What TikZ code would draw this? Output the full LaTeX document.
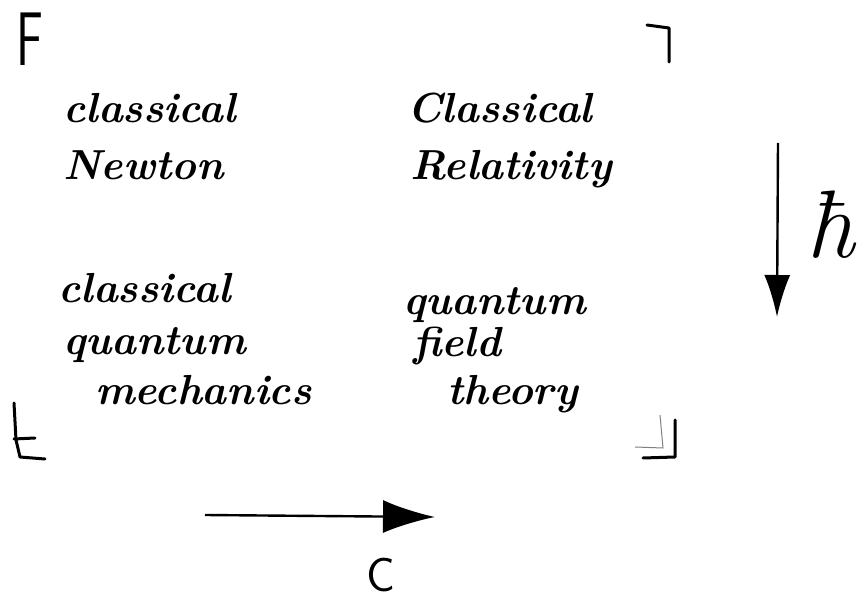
\documentclass[tikz,border=0pt]{standalone}
\usepackage{fontspec}
\usetikzlibrary{arrows.meta}
\begin{document}
\begin{tikzpicture}[x=1pt,y=-1pt,
  hand/.style={anchor=base west,inner sep=0pt,font=\fontsize{42}{50}\selectfont\bfseries\itshape},
  cornermark/.style={line width=3pt,line cap=round,line join=round},
  bigarrow/.style={line width=2.4pt}]
\useasboundingbox (0,0) rectangle (868,601);
% corner letters and marks
\node[anchor=base west,inner sep=0pt,xscale=0.66,font=\sffamily\fontsize{76}{76}\selectfont] (F) at (16,66) {F};
\draw[cornermark] (647,25) -- (669,28) -- (669,62);
\draw[cornermark] (14,403) -- (16,440) -- (20,457) -- (45,459);
\draw[cornermark] (14,439) -- (35,438);
\draw[cornermark] (643,458) -- (675,457) -- (675,420);
\draw[gray,line width=1pt] (660,415) -- (663,448) -- (635,447);
% texts
\node[hand] (tl1) at (63,123) {classical};
\node[hand] (tl2) at (63,180) {Newton};
\node[hand] (tr1) at (407,123) {Classical};
\node[hand] (tr2) at (410,180) {Relativity};
\node[hand] (bl1) at (58,303) {classical};
\node[hand] (bl2) at (63,355) {quantum};
\node[hand] (bl3) at (95,405) {mechanics};
\node[hand] (br1) at (403,315) {quantum};
\node[hand] (br2) at (413,357) {field};
\node[hand] (br3) at (447,405) {theory};
% arrows
\coordinate (hs) at (778,143);
\coordinate (he) at (777,317);
\draw[bigarrow,-{Latex[length=42pt,width=26pt]}] (hs) -- (he);
\node[anchor=base west,inner sep=0pt,font=\fontsize{96}{96}\selectfont\itshape] (hbar) at (806,258) {ħ};
\coordinate (cs) at (205,515);
\coordinate (ce) at (435,517);
\draw[bigarrow,-{Latex[length=52pt,width=33pt]}] (cs) -- (ce);
\node[anchor=base,inner sep=0pt,font=\sffamily\fontsize{48}{48}\selectfont] (C) at (381,591) {C};
\end{tikzpicture}
\end{document}
